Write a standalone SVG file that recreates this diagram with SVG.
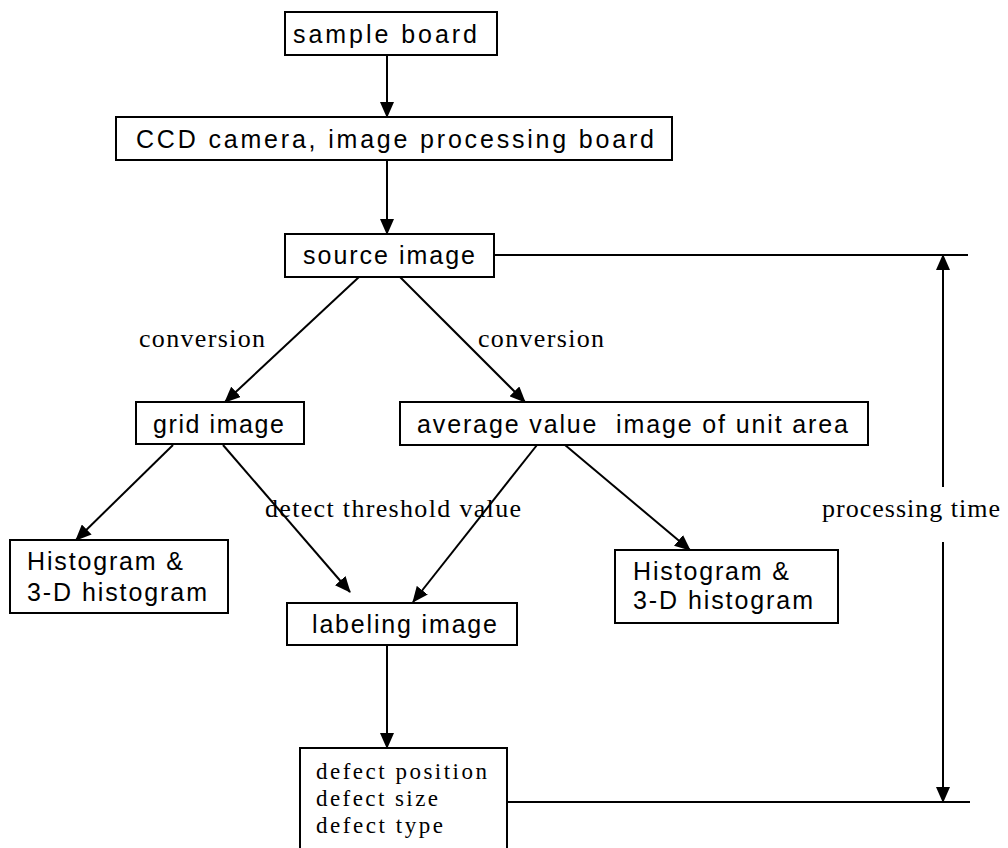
<svg xmlns="http://www.w3.org/2000/svg" width="1008" height="848" viewBox="0 0 1008 848">
<defs>
<marker id="ah" markerUnits="userSpaceOnUse" markerWidth="16" markerHeight="14" refX="15" refY="7" orient="auto">
<path d="M0,0 L16,7 L0,14 z" fill="#000"/>
</marker>
<style>
.box{fill:#fff;stroke:#000;stroke-width:2}
.sans{font-family:"Liberation Sans",Arial,sans-serif;font-size:25px;fill:#000}
.serif{font-family:"Liberation Serif","Times New Roman",serif;font-size:26px;fill:#000}
.small{font-size:23px}
.ln{stroke:#000;stroke-width:2;fill:none}
.ar{stroke:#000;stroke-width:2;fill:none;marker-end:url(#ah)}
</style>
</defs>
<rect width="1008" height="848" fill="#fff"/>
<g id="connectors">
<line class="ar" x1="387" y1="55" x2="387" y2="117"/>
<line class="ar" x1="387" y1="160" x2="387" y2="234"/>
<line class="ar" x1="359" y1="277" x2="225" y2="402"/>
<line class="ar" x1="400" y1="277" x2="525" y2="402"/>
<line class="ar" x1="173" y1="445" x2="76" y2="540"/>
<line class="ar" x1="223" y1="445" x2="350" y2="592"/>
<line class="ar" x1="537" y1="445" x2="413" y2="602"/>
<line class="ar" x1="565" y1="445" x2="690" y2="550"/>
<line class="ar" x1="387" y1="645" x2="387" y2="748"/>
<line class="ln" x1="494" y1="255" x2="968" y2="255"/>
<line class="ln" x1="507" y1="802" x2="970" y2="802"/>
<line class="ar" x1="943" y1="487" x2="943" y2="255"/>
<line class="ar" x1="943" y1="542" x2="943" y2="802"/>
</g>
<g id="sample-board">
<rect class="box" x="285" y="12" width="212" height="43"/>
<text class="sans" x="293" y="43" textLength="184" lengthAdjust="spacing">sample board</text>
</g>
<g id="ccd">
<rect class="box" x="116" y="117" width="556" height="43"/>
<text class="sans" x="136" y="148" textLength="518" lengthAdjust="spacing">CCD camera, image processing board</text>
</g>
<g id="source-image">
<rect class="box" x="285" y="234" width="209" height="43"/>
<text class="sans" x="303" y="264" textLength="172" lengthAdjust="spacing">source image</text>
</g>
<g id="label-conversion-left">
<text class="serif" x="139" y="347" textLength="126" lengthAdjust="spacing">conversion</text>
</g>
<g id="label-conversion-right">
<text class="serif" x="478" y="347" textLength="126" lengthAdjust="spacing">conversion</text>
</g>
<g id="grid-image">
<rect class="box" x="136" y="402" width="168" height="42"/>
<text class="sans" x="153" y="433" textLength="131" lengthAdjust="spacing">grid image</text>
</g>
<g id="average-image">
<rect class="box" x="400" y="402" width="468" height="43"/>
<text class="sans" x="417" y="433" textLength="431" lengthAdjust="spacing" xml:space="preserve">average value  image of unit area</text>
</g>
<g id="hist-left">
<rect class="box" x="10" y="540" width="218" height="73"/>
<text class="sans" x="27" y="570" textLength="156" lengthAdjust="spacing">Histogram &amp;</text>
<text class="sans" x="27" y="601" textLength="180" lengthAdjust="spacing">3-D histogram</text>
</g>
<g id="label-threshold">
<text class="serif" x="265" y="517" textLength="256" lengthAdjust="spacing">detect threshold value</text>
</g>
<g id="hist-right">
<rect class="box" x="615" y="550" width="223" height="73"/>
<text class="sans" x="633" y="580" textLength="156" lengthAdjust="spacing">Histogram &amp;</text>
<text class="sans" x="633" y="609" textLength="180" lengthAdjust="spacing">3-D histogram</text>
</g>
<g id="label-processing-time">
<text class="serif" x="822" y="517" textLength="178" lengthAdjust="spacing">processing time</text>
</g>
<g id="labeling-image">
<rect class="box" x="287" y="603" width="230" height="42"/>
<text class="sans" x="312" y="633" textLength="185" lengthAdjust="spacing">labeling image</text>
</g>
<g id="defect">
<rect class="box" x="300" y="748" width="207" height="110"/>
<text class="serif small" x="316" y="779" textLength="171" lengthAdjust="spacing">defect position</text>
<text class="serif small" x="316" y="806" textLength="122" lengthAdjust="spacing">defect size</text>
<text class="serif small" x="316" y="833" textLength="127" lengthAdjust="spacing">defect type</text>
</g>
</svg>
